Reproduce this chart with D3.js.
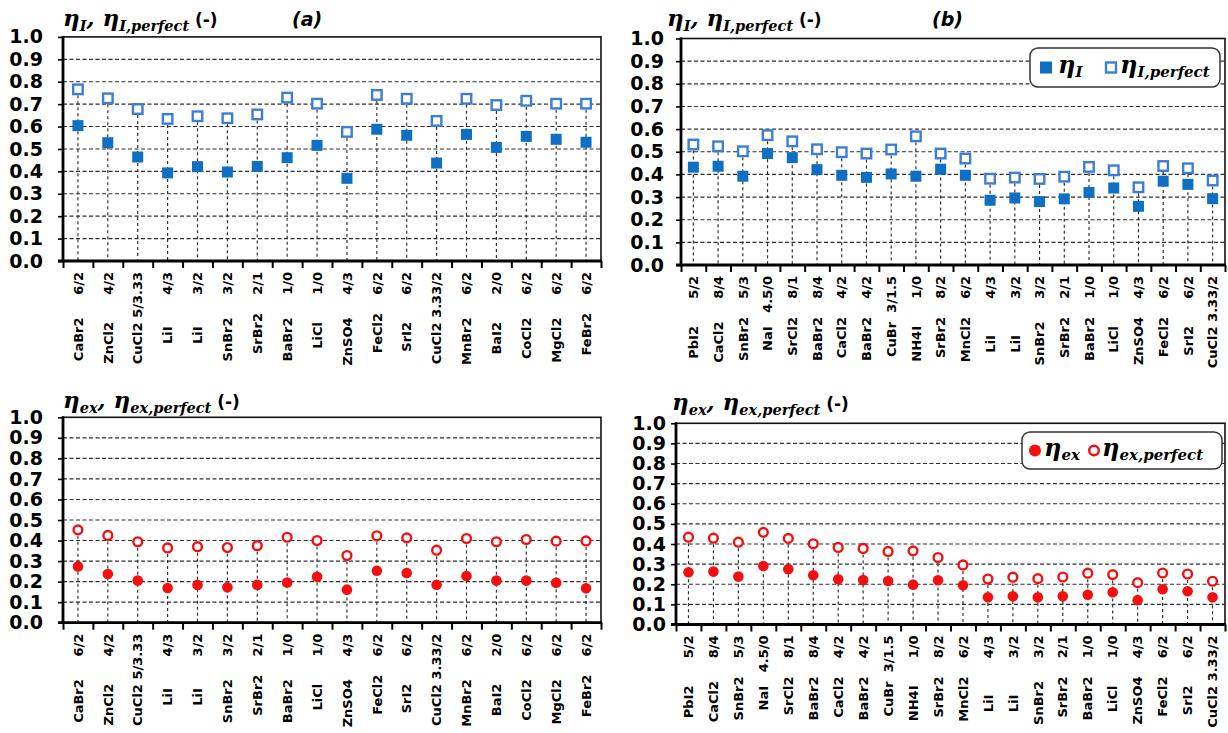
<!DOCTYPE html>
<html>
<head>
<meta charset="utf-8">
<script src="https://cdn.jsdelivr.net/npm/d3@7"></script>
<style>
  html, body { margin: 0; padding: 0; background: #fff; }
  svg { display: block; }
  .xl { white-space: pre; }
</style>
</head>
<body>
<svg id="chart" width="1228" height="733"></svg>
<script>
// ---------------- data ----------------
const labelsA = [
  "CaBr2     6/2", "ZnCl2      4/2", "CuCl2 5/3.33", "LiI       4/3", "LiI       3/2",
  "SnBr2     3/2", "SrBr2    2/1", "BaBr2     1/0", "LiCl      1/0", "ZnSO4     4/3",
  "FeCl2    6/2", "SrI2      6/2", "CuCl2 3.33/2", "MnBr2     6/2", "BaI2      2/0",
  "CoCl2     6/2", "MgCl2     6/2", "FeBr2    6/2"
];
const labelsB = [
  "PbI2      5/2", "CaCl2     8/4", "SnBr2    5/3", "NaI   4.5/0", "SrCl2    8/1",
  "BaBr2    8/4", "CaCl2    4/2", "BaBr2    4/2", "CuBr  3/1.5", "NH4I      1/0",
  "SrBr2    8/2", "MnCl2    6/2", "LiI        4/3", "LiI        3/2", "SnBr2     3/2",
  "SrBr2    2/1", "BaBr2    1/0", "LiCl      1/0", "ZnSO4    4/3", "FeCl2    6/2",
  "SrI2      6/2", "CuCl2 3.33/2"
];

// (a) eta_I and eta_I,perfect
const etaI_A     = [0.604, 0.528, 0.464, 0.393, 0.421, 0.397, 0.422, 0.461, 0.516, 0.369, 0.588, 0.561, 0.437, 0.565, 0.507, 0.556, 0.543, 0.530];
const etaIperf_A = [0.766, 0.726, 0.678, 0.634, 0.646, 0.637, 0.654, 0.729, 0.702, 0.576, 0.741, 0.724, 0.625, 0.724, 0.696, 0.715, 0.702, 0.702];
// (b) eta_I and eta_I,perfect
const etaI_B     = [0.432, 0.436, 0.392, 0.492, 0.474, 0.421, 0.396, 0.387, 0.402, 0.392, 0.423, 0.396, 0.286, 0.296, 0.280, 0.292, 0.320, 0.340, 0.259, 0.370, 0.356, 0.293];
const etaIperf_B = [0.532, 0.524, 0.502, 0.573, 0.546, 0.511, 0.498, 0.492, 0.510, 0.568, 0.492, 0.470, 0.381, 0.386, 0.380, 0.390, 0.433, 0.418, 0.343, 0.437, 0.427, 0.373];
// (a) bottom: eta_ex and eta_ex,perfect
const etaEx_A     = [0.274, 0.237, 0.205, 0.169, 0.184, 0.172, 0.184, 0.196, 0.224, 0.161, 0.253, 0.242, 0.185, 0.227, 0.205, 0.205, 0.194, 0.168];
const etaExPerf_A = [0.452, 0.425, 0.394, 0.364, 0.370, 0.366, 0.375, 0.416, 0.400, 0.327, 0.423, 0.413, 0.353, 0.410, 0.394, 0.405, 0.397, 0.398];
// (b) bottom: eta_ex and eta_ex,perfect
const etaEx_B     = [0.260, 0.263, 0.238, 0.291, 0.275, 0.245, 0.225, 0.221, 0.216, 0.198, 0.220, 0.195, 0.135, 0.140, 0.135, 0.140, 0.148, 0.160, 0.121, 0.175, 0.165, 0.135];
const etaExPerf_B = [0.434, 0.429, 0.409, 0.458, 0.428, 0.401, 0.383, 0.378, 0.363, 0.366, 0.333, 0.296, 0.226, 0.235, 0.228, 0.236, 0.255, 0.248, 0.208, 0.256, 0.251, 0.215];

const yTicks = [0, 0.1, 0.2, 0.3, 0.4, 0.5, 0.6, 0.7, 0.8, 0.9, 1.0];
const gridTicks = [0.1, 0.2, 0.3, 0.4, 0.5, 0.6, 0.7, 0.8, 0.9];
const panelTags = ["(a)", "(b)"];

// ---------------- drawing ----------------
const svg = d3.select("#chart");
svg.append("rect").attr("width", 1228).attr("height", 733).attr("fill", "#fff");

const BLUE = "#0F6FC3", BLUE_H = "#3C7ED6", RED = "#F40F0F";

function drawTitle(g, x, y, sub) {
  const t = g.append("text").attr("x", x).attr("y", y)
    .attr("font-family", "DejaVu Serif").attr("font-style", "italic")
    .attr("font-weight", "bold").attr("font-size", 23).attr("fill", "#000");
  t.append("tspan").text("η");
  t.append("tspan").attr("font-size", 14.5).attr("dy", 5).text(sub);
  t.append("tspan").attr("dy", -5).text(", η");
  t.append("tspan").attr("font-size", 14.5).attr("dy", 5).text(sub + ",perfect");
  t.append("tspan").attr("dy", -5).attr("font-family", "DejaVu Sans").attr("font-style", "normal")
    .attr("font-size", 17).text(" (-)");
}

function drawPanel(p) {
  const g = svg.append("g");
  const n = p.labels.length;
  const x = d3.scaleBand().domain(d3.range(n)).range([p.x0, p.x1]);
  const xb = d3.scaleLinear().domain([0, n]).range([p.x0, p.x1]);
  const y = d3.scaleLinear().domain([0, 1]).range([p.yBot, p.yTop]);
  const cx = i => x(i) + x.bandwidth() / 2;

  // frame (top/right)
  g.append("rect").attr("x", p.x0).attr("y", y(1)).attr("width", p.x1 - p.x0).attr("height", y(0) - y(1))
    .attr("fill", "none").attr("stroke", "#111").attr("stroke-width", 1.6);

  // grid
  g.selectAll(".grid").data(gridTicks).enter().append("line")
    .attr("x1", p.x0).attr("x2", p.x1).attr("y1", d => y(d)).attr("y2", d => y(d))
    .attr("stroke", "#2e2e2e").attr("stroke-width", 1.15).attr("stroke-dasharray", "4,2.5");

  // drop lines
  g.selectAll(".drop").data(p.hi).enter().append("line")
    .attr("x1", (d, i) => cx(i)).attr("x2", (d, i) => cx(i))
    .attr("y1", d => y(d)).attr("y2", y(0))
    .attr("stroke", "#2a2a2a").attr("stroke-width", 1.15).attr("stroke-dasharray", "3,3");

  // y axis
  const ya = g.append("g").attr("transform", `translate(${p.x0},0)`)
    .call(d3.axisLeft(y).tickValues(yTicks).tickFormat(d3.format(".1f")).tickSize(5).tickPadding(p.pad));
  ya.select(".domain").remove();
  ya.selectAll(".tick line").attr("stroke", "#000").attr("stroke-width", 1.6);
  ya.selectAll(".tick text").attr("font-family", "DejaVu Sans").attr("font-weight", "bold")
    .attr("font-size", 19).attr("fill", "#000");
  g.append("line").attr("x1", p.x0).attr("x2", p.x0).attr("y1", y(1) - 1).attr("y2", y(0) + 1)
    .attr("stroke", "#000").attr("stroke-width", 2.8);

  // x axis ticks at band boundaries
  const xa = g.append("g").attr("transform", `translate(0,${y(0)})`)
    .call(d3.axisBottom(xb).tickValues(d3.range(n + 1)).tickFormat("").tickSize(7));
  xa.select(".domain").remove();
  xa.selectAll(".tick line").attr("stroke", "#000").attr("stroke-width", 2);
  g.append("line").attr("x1", p.x0 - 5).attr("x2", p.x1 + 1).attr("y1", y(0)).attr("y2", y(0))
    .attr("stroke", "#000").attr("stroke-width", 2.8);

  // x labels
  g.selectAll(".xl").data(p.labels).enter().append("text").attr("class", "xl")
    .attr("transform", (d, i) => `translate(${cx(i)},${y(0) + 11}) rotate(-90)`)
    .attr("text-anchor", "end").attr("dy", "0.36em")
    .attr("font-family", "DejaVu Sans").attr("font-weight", "bold").attr("font-size", 13)
    .attr("fill", "#000").text(d => d);

  // markers
  if (p.shape === "square") {
    const s = 11;
    g.selectAll(".lo").data(p.lo).enter().append("rect")
      .attr("x", (d, i) => cx(i) - s / 2).attr("y", d => y(d) - s / 2)
      .attr("width", s).attr("height", s).attr("fill", BLUE);
    const sh = 9.5;
    g.selectAll(".hi").data(p.hi).enter().append("rect")
      .attr("x", (d, i) => cx(i) - sh / 2).attr("y", d => y(d) - sh / 2)
      .attr("width", sh).attr("height", sh).attr("fill", "#fff")
      .attr("stroke", BLUE_H).attr("stroke-width", 2.4);
  } else {
    g.selectAll(".lo").data(p.lo).enter().append("circle")
      .attr("cx", (d, i) => cx(i)).attr("cy", d => y(d)).attr("r", 5.3).attr("fill", RED);
    g.selectAll(".hi").data(p.hi).enter().append("circle")
      .attr("cx", (d, i) => cx(i)).attr("cy", d => y(d)).attr("r", 4.4)
      .attr("fill", "#fff").attr("stroke", RED).attr("stroke-width", 2.4);
  }

  drawTitle(g, p.titleX, p.titleY, p.sub);
  if (p.tag) {
    g.append("text").attr("x", p.tagX).attr("y", p.titleY)
      .attr("font-family", "DejaVu Sans").attr("font-style", "italic").attr("font-weight", "bold")
      .attr("font-size", 19).attr("fill", "#000").text(p.tag);
  }
  if (p.legend) {
    const L = p.legend;
    const lg = g.append("g");
    lg.append("rect").attr("x", L.x).attr("y", L.y).attr("width", L.w).attr("height", L.h)
      .attr("rx", 8).attr("fill", "#fff").attr("stroke", "#333").attr("stroke-width", 1.5);
    const my = L.y + L.h / 2;
    if (p.shape === "square") {
      lg.append("rect").attr("x", L.x + 10).attr("y", my - 6).attr("width", 12).attr("height", 12).attr("fill", BLUE);
      lg.append("rect").attr("x", L.x + 76).attr("y", my - 5).attr("width", 10).attr("height", 10)
        .attr("fill", "#fff").attr("stroke", BLUE_H).attr("stroke-width", 2.4);
    } else {
      lg.append("circle").attr("cx", L.x + 13).attr("cy", my).attr("r", 6).attr("fill", RED);
      lg.append("circle").attr("cx", L.x + 72).attr("cy", my).attr("r", 4.8)
        .attr("fill", "#fff").attr("stroke", RED).attr("stroke-width", 2.4);
    }
    const items = [[L.t1x, p.sub], [L.t2x, p.sub + ",perfect"]];
    items.forEach(([tx, s]) => {
      const t = lg.append("text").attr("x", L.x + tx).attr("y", my + 5)
        .attr("font-family", "DejaVu Serif").attr("font-style", "italic").attr("font-weight", "bold")
        .attr("font-size", 24).attr("fill", "#000");
      t.append("tspan").text("η");
      t.append("tspan").attr("font-size", 15).attr("dy", 4).text(s);
    });
  }
}

drawPanel({ labels: labelsA, lo: etaI_A, hi: etaIperf_A, shape: "square", sub: "I",
  x0: 63, x1: 601, yTop: 36.9, yBot: 261, pad: 15, titleX: 63, titleY: 26, tag: panelTags[0], tagX: 292 });
drawPanel({ labels: labelsB, lo: etaI_B, hi: etaIperf_B, shape: "square", sub: "I",
  x0: 681, x1: 1225, yTop: 38.5, yBot: 265, pad: 12, titleX: 667, titleY: 26, tag: panelTags[1], tagX: 932,
  legend: { x: 1030, y: 48, w: 190, h: 39, t1x: 28, t2x: 90 } });
drawPanel({ labels: labelsA, lo: etaEx_A, hi: etaExPerf_A, shape: "circle", sub: "ex",
  x0: 63, x1: 601, yTop: 417.3, yBot: 622.7, pad: 15, titleX: 63, titleY: 408 });
drawPanel({ labels: labelsB, lo: etaEx_B, hi: etaExPerf_B, shape: "circle", sub: "ex",
  x0: 676, x1: 1225, yTop: 423.3, yBot: 624.5, pad: 5, titleX: 672, titleY: 410,
  legend: { x: 1022, y: 432, w: 200, h: 37, t1x: 22, t2x: 80 } });
</script>
</body>
</html>
